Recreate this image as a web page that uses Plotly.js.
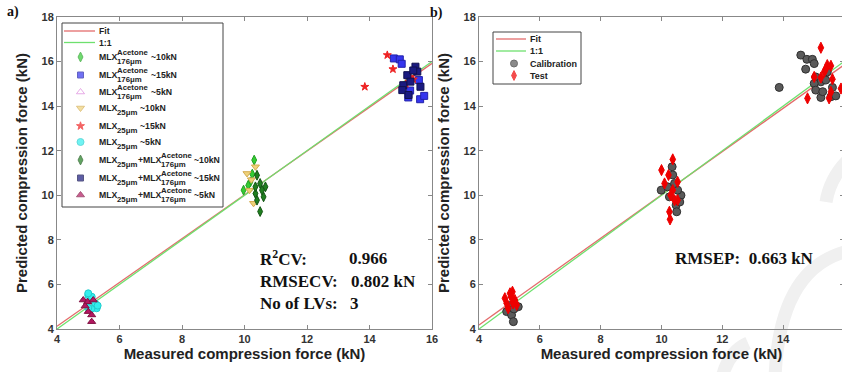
<!DOCTYPE html>
<html><head><meta charset="utf-8">
<script src="https://cdn.plot.ly/plotly-3.0.1.min.js"></script>
<style>html,body{margin:0;padding:0;overflow:hidden;background:#fff}#plot{width:846px;height:372px}</style>
</head><body><div id="plot"></div>
<script>
// ---------- Panel a) data ----------
const axisRange = [4, 16];
const yRange = [4, 18];
const oneToOneX = [4, 16];
const oneToOneY = [4, 16];
const fitA_X = [4, 16];
const fitA_Y = [4.12, 15.92];
const fitB_X = [4, 16];
const fitB_Y = [4.18, 15.85];

const mlxAc10_X = [10.31, 9.97, 10.19, 10.25, 10.12];
const mlxAc10_Y = [11.58, 10.23, 10.60, 10.95, 10.45];
const mlxAc15_X = [14.78, 14.97, 15.03, 15.58, 15.24, 15.62, 15.75, 15.30];
const mlxAc15_Y = [16.14, 16.10, 15.90, 15.17, 14.39, 14.31, 14.46, 14.70];
const mlxAc5_X = [5.05, 5.10, 5.00];
const mlxAc5_Y = [5.20, 5.05, 5.35];
const mlx25_10_X = [10.08, 10.35, 10.16, 10.29, 10.22];
const mlx25_10_Y = [10.98, 11.28, 10.23, 9.64, 10.70];
const mlx25_15_X = [14.57, 14.75, 13.85, 15.31, 15.16, 15.40];
const mlx25_15_Y = [16.29, 15.66, 14.87, 15.31, 15.00, 15.20];
const mlx25_5_X = [5.00, 5.11, 5.22, 5.27, 5.10, 5.00, 5.30, 5.00];
const mlx25_5_Y = [5.52, 5.45, 5.15, 4.93, 4.90, 4.95, 5.05, 5.60];
const mix10_X = [10.40, 10.50, 10.67, 10.35, 10.61, 10.40, 10.50, 10.56, 10.35];
const mix10_Y = [10.90, 10.53, 10.38, 10.08, 9.93, 9.78, 9.27, 10.23, 10.38];
const mix15_X = [15.47, 15.21, 15.08, 15.05, 15.31, 15.53, 15.63, 15.40, 15.25];
const mix15_Y = [15.77, 15.39, 14.94, 14.72, 15.10, 15.55, 14.87, 15.60, 14.50];
const mix5_X = [4.84, 4.98, 5.16, 4.90, 5.00, 5.11, 5.11];
const mix5_Y = [5.30, 5.22, 5.30, 5.03, 4.78, 4.63, 4.33];

// ---------- Panel b) data ----------
const calib_X = [14.58, 14.78, 14.96, 15.02, 14.74, 13.87, 15.07, 15.24, 15.02, 15.07, 15.24, 15.40, 15.57, 15.73, 15.45, 15.62, 15.30,
                 10.35, 10.37, 9.99, 10.20, 10.64, 10.48, 10.50, 10.53, 10.26, 10.43, 10.60,
                 4.91, 5.07, 5.13, 5.29, 5.00, 5.15];
const calib_Y = [16.29, 16.10, 16.10, 15.91, 15.66, 14.84, 15.31, 15.09, 15.02, 14.72, 14.39, 15.17, 14.42, 14.46, 15.54, 14.84, 14.65,
                 11.28, 10.91, 10.23, 10.38, 10.00, 9.56, 9.26, 10.23, 9.93, 10.53, 9.70,
                 4.78, 4.63, 4.33, 5.00, 5.05, 4.90];
const test_X = [15.24, 14.80, 15.02, 15.24, 15.45, 15.57, 15.35, 15.62, 15.57, 15.51, 15.40, 15.90,
                10.37, 10.00, 10.23, 10.10, 10.53, 10.37, 10.43, 10.26, 10.28, 10.53, 10.30,
                4.85, 5.02, 5.10, 4.91, 5.18, 5.24, 4.96, 5.05, 5.12];
const test_Y = [16.62, 14.35, 15.31, 15.28, 15.84, 15.81, 15.54, 15.21, 14.64, 14.35, 15.66, 14.79,
                11.61, 11.13, 10.91, 10.53, 10.60, 10.23, 9.78, 9.26, 8.92, 9.78, 10.00,
                5.38, 5.60, 5.67, 5.15, 5.30, 5.08, 4.93, 5.45, 5.15];

// legend labels: [kind, text(s)]  b = base, ss = stacked sup/sub, s = sub
const legendLabelsA = [
  [['b', 'Fit']],
  [['b', '1:1']],
  [['b', 'MLX'], ['ss', 'Acetone', '176μm'], ['b', ' ~10kN']],
  [['b', 'MLX'], ['ss', 'Acetone', '176μm'], ['b', ' ~15kN']],
  [['b', 'MLX'], ['ss', 'Acetone', '176μm'], ['b', ' ~5kN']],
  [['b', 'MLX'], ['s', '25μm'], ['b', ' ~10kN']],
  [['b', 'MLX'], ['s', '25μm'], ['b', ' ~15kN']],
  [['b', 'MLX'], ['s', '25μm'], ['b', ' ~5kN']],
  [['b', 'MLX'], ['s', '25μm'], ['b', '+MLX'], ['ss', 'Acetone', '176μm'], ['b', ' ~10kN']],
  [['b', 'MLX'], ['s', '25μm'], ['b', '+MLX'], ['ss', 'Acetone', '176μm'], ['b', ' ~15kN']],
  [['b', 'MLX'], ['s', '25μm'], ['b', '+MLX'], ['ss', 'Acetone', '176μm'], ['b', ' ~5kN']]
];
const legendLabelsB = ['Fit', '1:1', 'Calibration', 'Test'];

// ---------- geometry ----------
const W = 846, H = 372, T = 17, B = 43;
const PH = H - T - B;
const px = x => x / W;
const py = y => (H - B - y) / PH;

const RED = '#e46c6c', GREEN = '#6ee06e';
const styles = [
  null, null,
  {symbol: 'diamond-tall', color: '#33cc33', line: '#23a023', size: 7},
  {symbol: 'square', color: '#3535ee', line: '#2222aa', size: 7},
  {symbol: 'triangle-up-open', color: '#dd88dd', line: '#dd88dd', size: 7},
  {symbol: 'triangle-down', color: '#efd27a', line: '#d4ac50', size: 7},
  {symbol: 'star', color: '#ee2222', line: '#ee2222', size: 6},
  {symbol: 'circle', color: '#33eeee', line: '#22cccc', size: 7},
  {symbol: 'diamond-tall', color: '#1f7f1f', line: '#145514', size: 7},
  {symbol: 'square', color: '#1a1a80', line: '#101050', size: 7},
  {symbol: 'triangle-up', color: '#b31760', line: '#801040', size: 7}
];
const seriesA = [null, null,
  [mlxAc10_X, mlxAc10_Y], [mlxAc15_X, mlxAc15_Y], [mlxAc5_X, mlxAc5_Y],
  [mlx25_10_X, mlx25_10_Y], [mlx25_15_X, mlx25_15_Y], [mlx25_5_X, mlx25_5_Y],
  [mix10_X, mix10_Y], [mix15_X, mix15_Y], [mix5_X, mix5_Y]];

function plainName(parts) {
  return parts.map(p => p[0] === 'ss' ? p[1] + ' ' + p[2] : p[1]).join('');
}
function sc(name, x, y, st, xa, ya) {
  return {type: 'scatter', mode: 'markers', name: name, x: x, y: y, xaxis: xa, yaxis: ya, showlegend: false,
    marker: {symbol: st.symbol, size: st.size, color: st.color, line: {color: st.line, width: 1}}};
}
function ln(name, x, y, color, xa, ya) {
  return {type: 'scatter', mode: 'lines', name: name, x: x, y: y, xaxis: xa, yaxis: ya, showlegend: false,
    line: {color: color, width: 1.3}};
}

const traces = [
  ln('Fit', fitA_X, fitA_Y, RED, 'x', 'y'),
  ln('1:1', oneToOneX, oneToOneY, GREEN, 'x', 'y')
];
for (let i = 2; i < seriesA.length; i++) {
  traces.push(sc(plainName(legendLabelsA[i]), seriesA[i][0], seriesA[i][1], styles[i], 'x', 'y'));
}
const calibStyle = {symbol: 'circle', color: '#5a5a5a', line: '#303030', size: 8};
const testStyle = {symbol: 'diamond-tall', color: '#ee0000', line: '#ee0000', size: 8};
traces.push(ln('Fit', fitB_X, fitB_Y, RED, 'x2', 'y2'));
traces.push(ln('1:1', oneToOneX, oneToOneY, GREEN, 'x2', 'y2'));
traces.push(sc('Calibration', calib_X, calib_Y, calibStyle, 'x2', 'y2'));
traces.push(sc('Test', test_X, test_Y, testStyle, 'x2', 'y2'));

// ---------- legends (drawn on a pixel overlay axis) ----------
const ctx = document.createElement('canvas').getContext('2d');
const LF = '"Liberation Sans", Arial, sans-serif';
function tw(text, size) { ctx.font = 'bold ' + size + 'px ' + LF; return ctx.measureText(text).width; }
const shapes = [], annotations = [];
const swX = [], swY = [], swSym = [], swCol = [], swLine = [], swSize = [];

function txt(text, x, y, size) {
  annotations.push({text: text, xref: 'x3', yref: 'y3', x: x, y: y, xanchor: 'left', yanchor: 'middle',
    showarrow: false, borderpad: 0, font: {family: LF, size: size, color: '#222', weight: 'bold'}});
}
function label(parts, x, y) {
  const BS = 8.7, SS = 7.8;
  let cx = x;
  parts.forEach(p => {
    if (p[0] === 'b') {
      let t = p[1];
      if (t.startsWith(' ')) { cx += tw(' ', BS); t = t.trim(); }
      txt(t, cx, y, BS); cx += tw(t, BS);
    } else if (p[0] === 'ss') {
      txt(p[1], cx, y - 4.5, SS); txt(p[2], cx, y + 4.5, SS);
      cx += Math.max(tw(p[1], SS), tw(p[2], SS));
    } else {
      txt(p[1], cx, y + 4.5, SS); cx += tw(p[1], SS);
    }
  });
}
function box(x0, y0, x1, y1) {
  shapes.push({type: 'rect', xref: 'x3', yref: 'y3', x0: x0, y0: y0, x1: x1, y1: y1,
    line: {color: '#444', width: 1}, fillcolor: 'rgba(0,0,0,0)', layer: 'below'});
}
function sample(x0, x1, y, color) {
  shapes.push({type: 'line', xref: 'x3', yref: 'y3', x0: x0, x1: x1, y0: y, y1: y,
    line: {color: color, width: 1.3}});
}
function swatch(x, y, st, size) {
  swX.push(x); swY.push(y); swSym.push(st.symbol); swCol.push(st.color); swLine.push(st.line); swSize.push(size);
}

// legend a)
box(62, 23, 223, 207);
const rowsA = [31, 42.5, 57, 75, 92, 108, 126, 142, 160, 178, 195];
sample(64, 95, rowsA[0], RED);
sample(64, 95, rowsA[1], GREEN);
for (let i = 0; i < legendLabelsA.length; i++) {
  if (styles[i]) swatch(80.5, rowsA[i], styles[i], styles[i].symbol === 'square' ? 6 : styles[i].size);
  label(legendLabelsA[i], 98, rowsA[i]);
}
// legend b)
box(493, 32, 581, 84);
const rowsB = [39, 51, 63.5, 75.5];
sample(496, 526, rowsB[0], RED);
sample(496, 526, rowsB[1], GREEN);
swatch(514, rowsB[2], calibStyle, 7);
swatch(514, rowsB[3], testStyle, 7);
legendLabelsB.forEach((t, i) => txt(t, 529, rowsB[i], 9));

traces.push({type: 'scatter', mode: 'markers', x: swX, y: swY, xaxis: 'x3', yaxis: 'y3', showlegend: false,
  hoverinfo: 'skip', cliponaxis: false,
  marker: {symbol: swSym, color: swCol, size: swSize, line: {color: swLine, width: 1}}});

// watermark arcs
function wpath(d) {
  return d.replace(/(-?\d+(\.\d+)?) (-?\d+(\.\d+)?)/g, (m, a, _b, c) => px(+a).toFixed(4) + ',' + py(+c).toFixed(4));
}
[ 'M 826 202 Q 830 178 848 160',
  'M 775 378 Q 779 268 848 251',
  'M 722 378 Q 728 352 748 343' ].forEach(d => {
  shapes.push({type: 'path', xref: 'paper', yref: 'paper', path: wpath(d),
    line: {color: '#f0f0f0', width: 13}, layer: 'below'});
});

// ---------- axes ----------
const tickFont = {family: 'Liberation Sans, Arial', size: 11, color: '#333', weight: 'bold'};
const titleFont = {family: 'Liberation Sans, Arial', size: 15, color: '#222', weight: 'bold'};
function xax(dom, anchor) {
  return {domain: dom, anchor: anchor, range: axisRange, dtick: 2, ticks: 'inside', ticklen: 4, tickcolor: '#888',
    showline: true, linecolor: '#888', linewidth: 1, mirror: 'ticks', showgrid: false, zeroline: false,
    tickfont: tickFont, title: {text: 'Measured compression force (kN)', font: titleFont, standoff: 4}};
}
function yax(anchor) {
  return {anchor: anchor, range: yRange, dtick: 2, ticks: 'inside', ticklen: 4, tickcolor: '#888',
    showline: true, linecolor: '#888', linewidth: 1, mirror: 'ticks', showgrid: false, zeroline: false,
    tickfont: tickFont, title: {text: 'Predicted compression force (kN)', font: titleFont, standoff: 10}};
}

const serif = {family: 'Liberation Serif, Times New Roman', size: 17, color: '#111', weight: 'bold'};
function ann(text, x, y, font) {
  return {text: text, xref: 'paper', yref: 'paper', x: px(x), y: py(y), xanchor: 'left',
    yanchor: 'middle', showarrow: false, font: font};
}
const panelFont = {family: 'Liberation Serif, Times New Roman', size: 14, color: '#111', weight: 'bold'};
annotations.push(
  ann('a)', 5, 12, panelFont),
  ann('b)', 428, 13, panelFont),
  ann('R<sup>2</sup>CV:', 258, 258, serif),
  ann('0.966', 347, 258, serif),
  ann('RMSECV:', 258, 281, serif),
  ann('0.802 kN', 349, 281, serif),
  ann('No of LVs:', 258, 303, serif),
  ann('3', 348, 303, serif),
  ann('RMSEP:  0.663 kN', 673, 258, serif)
);

const layout = {
  width: W, height: H, margin: {l: 0, r: 0, t: T, b: B}, paper_bgcolor: '#fff', plot_bgcolor: 'rgba(0,0,0,0)',
  showlegend: false,
  xaxis: xax([px(57), px(432)], 'y'),
  yaxis: yax('x'),
  xaxis2: xax([px(479), px(844)], 'y2'),
  yaxis2: yax('x2'),
  xaxis3: {domain: [0, 1], anchor: 'y3', range: [0, W], visible: false, fixedrange: true},
  yaxis3: {domain: [0, 1], anchor: 'x3', range: [H - B, T], visible: false, fixedrange: true},
  shapes: shapes,
  annotations: annotations
};

Plotly.newPlot('plot', traces, layout, {staticPlot: true, displayModeBar: false});
</script></body></html>
